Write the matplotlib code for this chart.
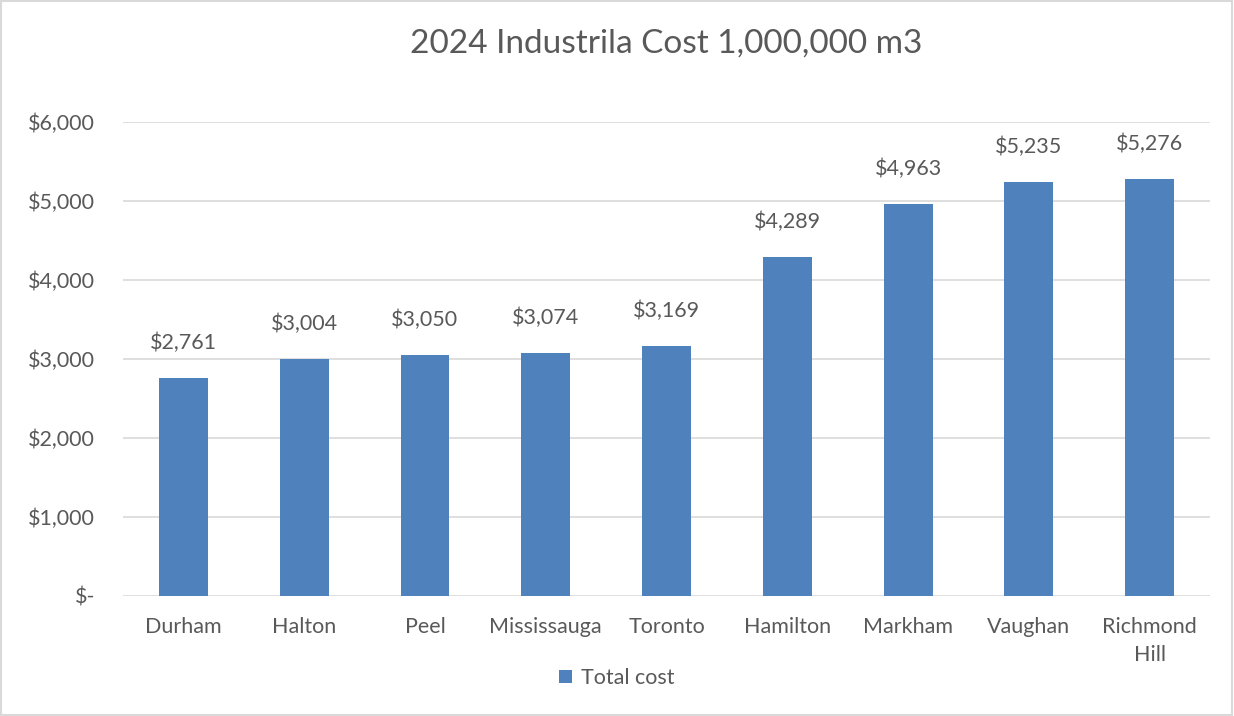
import matplotlib.pyplot as plt
from matplotlib.patches import Rectangle

plt.rcParams['font.family'] = ['Lato', 'DejaVu Sans']

cities = ['Durham', 'Halton', 'Peel', 'Mississauga', 'Toronto',
          'Hamilton', 'Markham', 'Vaughan', 'Richmond\nHill']
total_cost = [2761, 3004, 3050, 3074, 3169, 4289, 4963, 5235, 5276]
yticks = [0, 1000, 2000, 3000, 4000, 5000, 6000]
ytick_labels = ['$-', '$1,000', '$2,000', '$3,000', '$4,000', '$5,000', '$6,000']

text_col = '#595959'
bar_col = '#4F81BD'

fig = plt.figure(figsize=(12.34, 7.16), dpi=100)
ax = fig.add_axes([0.0997, 0.1676, 0.8809, 0.662])

x = range(len(cities))
bars = ax.bar(x, total_cost, width=0.405, color=bar_col, label='Total cost', zorder=3)
for xi, v in zip(x, total_cost):
    ax.annotate('${:,}'.format(v), (xi, v), xytext=(0, 18), textcoords='offset points',
                ha='center', va='bottom', fontsize=15.5, color=text_col)

ax.set_xlim(-0.5, len(cities) - 0.5)
ax.set_ylim(0, 6000)
ax.set_yticks(yticks)
ax.set_yticklabels(ytick_labels)
ax.set_xticks(list(x))
ax.set_xticklabels(cities, linespacing=1.5)
ax.tick_params(axis='both', length=0, labelsize=15.5, colors=text_col)
ax.tick_params(axis='y', pad=20)
ax.tick_params(axis='x', pad=15)
ax.grid(axis='y', color='#D9D9D9', linewidth=1.2, zorder=0)
for s in ax.spines.values():
    s.set_visible(False)

ax.set_title('2024 Industrila Cost 1,000,000 m3', fontsize=24, color=text_col, pad=50)

fig.legend(handles=[bars], labels=['Total cost'], loc='center', bbox_to_anchor=(0.5, 0.053),
           frameon=False, fontsize=15.5, labelcolor=text_col, handlelength=0.6,
           handleheight=0.6, handletextpad=0.4)

fig.patches.append(Rectangle((0.001, 0.001), 0.997, 0.997, transform=fig.transFigure,
                             fill=False, edgecolor='#D9D9D9', linewidth=1.5))

fig.savefig('out.png', dpi=100)
